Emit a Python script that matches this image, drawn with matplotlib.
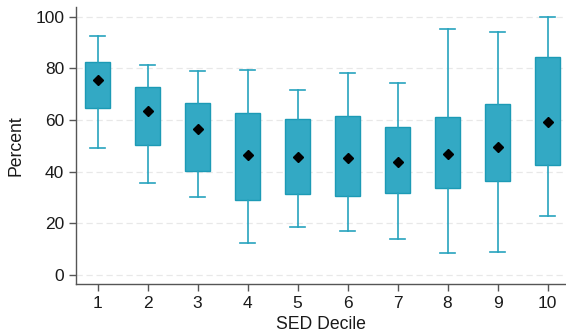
import matplotlib
matplotlib.use("Agg")
import matplotlib.pyplot as plt

plt.rcParams["font.family"] = ["Liberation Sans", "DejaVu Sans"]

# box summary per SED decile (percent)
deciles = [1, 2, 3, 4, 5, 6, 7, 8, 9, 10]
whisker_low = [49.3, 35.7, 30.3, 12.4, 18.5, 17.2, 13.8, 8.5, 8.9, 22.7]
q1 = [64.8, 50.2, 40.3, 29.0, 31.4, 30.6, 31.9, 33.6, 36.3, 42.7]
q3 = [82.6, 72.9, 66.6, 62.6, 60.5, 61.6, 57.2, 61.0, 66.2, 84.4]
whisker_high = [92.5, 81.4, 79.0, 79.4, 71.5, 78.2, 74.2, 95.1, 94.2, 100.0]
means = [75.5, 63.7, 56.4, 46.3, 45.6, 45.4, 43.6, 46.7, 49.6, 59.2]

fill = "#33a9c4"
edge = "#1c9ab5"

stats = []
for d, lo, a, b, hi, m in zip(deciles, whisker_low, q1, q3, whisker_high, means):
    stats.append({"label": str(d), "whislo": lo, "q1": a, "med": (a + b) / 2,
                  "q3": b, "whishi": hi, "mean": m, "fliers": []})

fig = plt.figure(figsize=(5.66, 3.35), dpi=100)
ax = fig.add_axes([76 / 566, 1 - 283.7 / 335, 490 / 566, 276.7 / 335])

ax.bxp(stats, positions=deciles, widths=0.5, patch_artist=True,
       showmeans=True, showfliers=False, capwidths=0.3,
       boxprops=dict(facecolor=fill, edgecolor=edge, linewidth=1.0),
       whiskerprops=dict(color="#27a3be", linewidth=1.2),
       capprops=dict(color="#27a3be", linewidth=1.2),
       medianprops=dict(linewidth=0),
       meanprops=dict(marker="D", markerfacecolor="black",
                      markeredgecolor="black", markersize=5))

ax.set_xlim(0.57, 10.37)
ax.set_ylim(-3.4, 103.8)
ax.set_yticks([0, 20, 40, 60, 80, 100])
ax.set_xticks(deciles)
ax.set_xticklabels([str(d) for d in deciles])
ax.yaxis.grid(True, color="#e8e8e8", linestyle=(0, (5, 3)), linewidth=0.9)
ax.set_axisbelow(True)

for side in ("top", "right"):
    ax.spines[side].set_visible(False)
for side in ("left", "bottom"):
    ax.spines[side].set_color("#555555")
    ax.spines[side].set_linewidth(1.0)
ax.tick_params(colors="#555555", labelcolor="#1a1a1a", labelsize=12.5,
               length=5, width=1.0)

ax.set_xlabel("SED Decile", fontsize=12.7, color="#1a1a1a", labelpad=4)
ax.set_ylabel("Percent", fontsize=12.7, color="#1a1a1a", labelpad=8)

fig.savefig("out.png", dpi=100)
